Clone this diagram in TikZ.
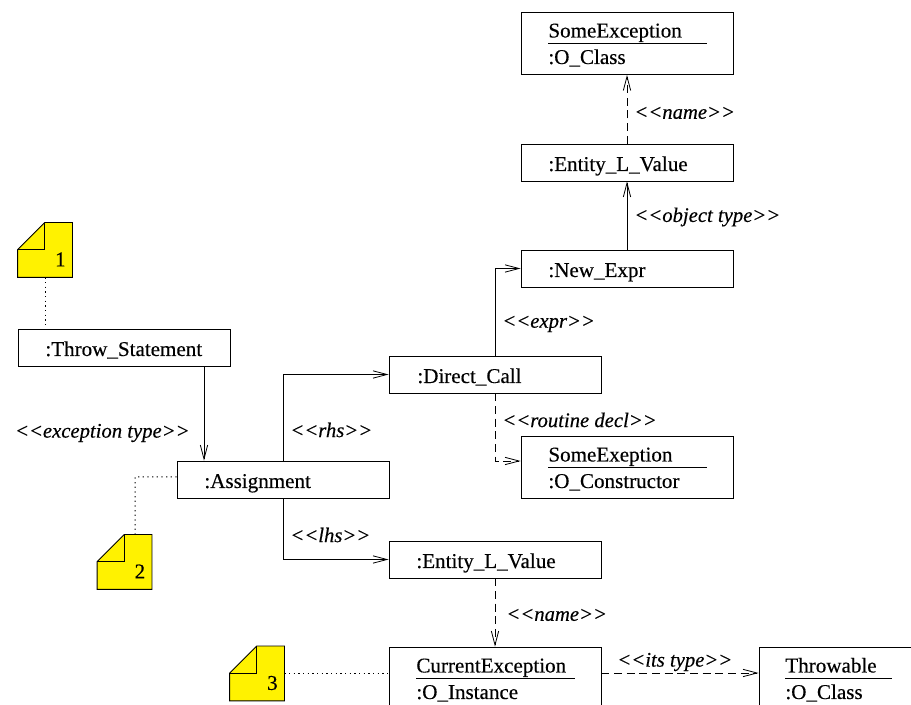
\documentclass[tikz,border=0pt]{standalone}
\usepackage{fontspec}
\setmainfont{Liberation Serif}
\newfontfamily\umlfont{Liberation Serif}[FakeBold=0.35]
\usetikzlibrary{arrows.meta,calc}

% stereotype-style role name, with the angle brackets kept apart
\newcommand{\stereo}[1]{<{}<#1>{}>}

% UML note with a folded top-left corner, drawn around an invisible square node
\newcommand{\umlnote}[3]{%
  \node[notebase] (#1) at (#2) {};
  \path[notefill] ($(#1.north west)+(27,0)$) -- (#1.north east) -- (#1.south east)
    -- (#1.south west) -- ($(#1.north west)+(0,27)$) -- cycle;
  \draw ($(#1.north west)+(27,0)$) -- ++(0,27) -- ++(-27,0);
  \node[inner sep=0pt, anchor=base] (#1num) at ($(#1.south east)+(-12,-11)$) {#3};
}

\begin{document}
\begin{tikzpicture}[x=0.75pt,y=-0.75pt,
  font=\umlfont\fontsize{15.8pt}{18pt}\selectfont,
  line width=0.6pt,
  obj/.style={draw, rectangle, inner sep=0pt, minimum width=159pt, minimum height=27.75pt},
  obj2/.style={obj, minimum height=46.5pt},
  txt/.style={inner sep=0pt, anchor=base west},
  role/.style={inner sep=0pt, font=\umlfont\fontsize{15.5pt}{18pt}\selectfont\itshape},
  assoc/.style={-{Straight Barb[length=10.5pt,width=5.5pt]}},
  dep/.style={assoc, dash pattern=on 6pt off 3.5pt},
  notelink/.style={line width=0.75pt, dash pattern=on 0.9pt off 2.6pt},
  notebase/.style={inner sep=0pt, minimum size=40.5pt},
  notefill/.style={draw, fill=yellow},
]
\clip (0,0) rectangle (911,705);

% object boxes
\node[obj2] (cls)    at (627,43.5)  {};
\node[obj]  (elvTop) at (627,162.5) {};
\node[obj]  (newx)   at (627,268.5) {};
\node[obj]  (dcall)  at (495,374.5) {};
\node[obj2] (ctor)   at (627,467)   {};
\node[obj]  (throw)  at (124,347.5) {};
\node[obj]  (asg)    at (283,479.5) {};
\node[obj]  (elvBot) at (495,559.5) {};
\node[obj2] (cur)    at (495,678)   {};
\node[obj2] (thr)    at (865,678)   {};

% box texts
\node[txt] (clsA)    at (548,37.5) {SomeException};
\node[txt] (clsB)    at (548,64)   {:O\_Class};
\node[txt] (elvTopT) at (548,171)  {:Entity\_L\_Value};
\node[txt] (newxT)   at (548,277)  {:New\_Expr};
\node[txt] (dcallT)  at (417,383)  {:Direct\_Call};
\node[txt] (ctorA)   at (548,461.5){SomeExeption};
\node[txt] (ctorB)   at (548,488)  {:O\_Constructor};
\node[txt] (throwT)  at (45,356)   {:Throw\_Statement};
\node[txt] (asgT)    at (204,488)  {:Assignment};
\node[txt] (elvBotT) at (416,568)  {:Entity\_L\_Value};
\node[txt] (curA)    at (416,672.5){CurrentException};
\node[txt] (curB)    at (416,699)  {:O\_Instance};
\node[txt] (thrA)    at (785,672.5){Throwable};
\node[txt] (thrB)    at (785,699)  {:O\_Class};

% instance-name underlines
\draw (548,43)  -- (707,43);
\draw (548,467) -- (707,467);
\draw (416,678) -- (575,678);
\draw (785,678) -- (892,678);

% links
\draw[dep]   (elvTop) -- (cls);
\draw[assoc] (newx) -- (elvTop);
\draw[assoc] (dcall.north) |- (newx.west);
\draw[dep]   (dcall.south) |- ([yshift=4.5pt]ctor.west);
\draw[assoc] ([xshift=60pt]throw.south) -- ([xshift=60pt]throw.south |- asg.north);
\draw[assoc] (asg.north) |- (dcall.west);
\draw[assoc] (asg.south) |- (elvBot.west);
\draw[dep]   (elvBot) -- (cur);
\draw[dep]   ([yshift=3.75pt]cur.east) -- ([yshift=3.75pt]thr.west);

% link roles
\node[role, anchor=west] (nameTop) at (634,113) {\stereo{name}};
\node[role, anchor=west] (objtype) at (634,217) {\stereo{object type}};
\node[role, anchor=west] (expr)    at (502,324) {\stereo{expr}};
\node[role, anchor=west] (rdecl)   at (502,420) {\stereo{routine decl}};
\node[role, anchor=west] (rhs)     at (290,430) {\stereo{rhs}};
\node[role, anchor=east] (extype)  at (190,433) {\stereo{exception type}};
\node[role, anchor=west] (lhs)     at (290,535) {\stereo{lhs}};
\node[role, anchor=west] (nameBot) at (506,615) {\stereo{name}};
\node[role, anchor=west] (itstype) at (617,662) {\stereo{its type}};

% notes
\umlnote{n1}{45,250}{1}
\umlnote{n2}{124.5,562}{2}
\umlnote{n3}{257,673.5}{3}

\coordinate (n2bend) at (135,477);
\draw[notelink] (n1.south) -- (n1.south |- throw.north);
\draw[notelink] ([yshift=1.9pt]asg.west) -- (n2bend) -- (n2bend |- n2.north);
\draw[notelink] (n3.east) -- (n3.east -| cur.west);
\end{tikzpicture}
\end{document}
